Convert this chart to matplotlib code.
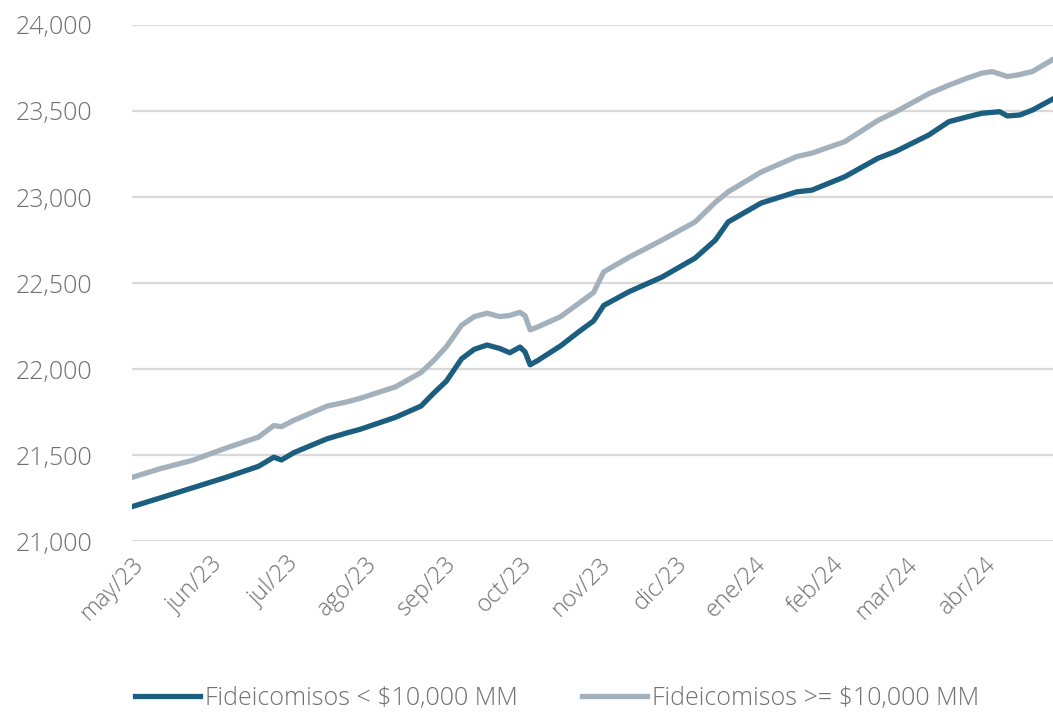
import pandas as pd
import matplotlib
matplotlib.use("Agg")
import matplotlib.pyplot as plt
from matplotlib.ticker import FuncFormatter

# values (approximate)
dates = [
    "2023-05-01", "2023-05-12", "2023-05-25", "2023-06-07", "2023-06-20",
    "2023-06-26", "2023-06-29", "2023-07-04", "2023-07-17", "2023-07-25",
    "2023-07-30", "2023-08-13", "2023-08-23", "2023-08-28", "2023-09-02",
    "2023-09-08", "2023-09-13", "2023-09-18", "2023-09-23", "2023-09-27",
    "2023-10-01", "2023-10-03", "2023-10-05", "2023-10-08", "2023-10-17",
    "2023-10-24", "2023-10-30", "2023-11-03", "2023-11-13", "2023-11-26",
    "2023-12-09", "2023-12-17", "2023-12-22", "2024-01-04", "2024-01-18",
    "2024-01-24", "2024-02-06", "2024-02-19", "2024-02-26", "2024-03-10",
    "2024-03-18", "2024-03-25", "2024-03-31", "2024-04-04", "2024-04-07",
    "2024-04-10", "2024-04-15", "2024-04-20", "2024-04-28",
]
menores = [
    21200, 21250, 21310, 21370, 21435,
    21488, 21472, 21515, 21595, 21630,
    21650, 21720, 21785, 21860, 21930,
    22060, 22115, 22140, 22120, 22095,
    22128, 22100, 22025, 22050, 22135,
    22215, 22280, 22370, 22450, 22535,
    22645, 22750, 22855, 22965, 23030,
    23040, 23118, 23225, 23265, 23360,
    23438, 23465, 23487, 23492, 23496,
    23471, 23477, 23506, 23570,
]
mayores = [
    21370, 21420, 21470, 21540, 21605,
    21672, 21665, 21703, 21785, 21810,
    21830, 21897, 21980, 22050, 22130,
    22255, 22305, 22325, 22305, 22312,
    22330, 22310, 22228, 22245, 22305,
    22380, 22445, 22565, 22650, 22750,
    22855, 22970, 23030, 23145, 23235,
    23255, 23322, 23445, 23495, 23600,
    23650, 23690, 23720, 23729, 23715,
    23700, 23712, 23730, 23800,
]
month_ticks = pd.date_range("2023-05-01", "2024-04-01", freq="MS")
month_labels = ["may/23", "jun/23", "jul/23", "ago/23", "sep/23", "oct/23",
                "nov/23", "dic/23", "ene/24", "feb/24", "mar/24", "abr/24"]
series_names = ["Fideicomisos < $10,000 MM", "Fideicomisos >= $10,000 MM"]

plt.rcParams["font.family"] = ["Open Sans", "DejaVu Sans"]
plt.rcParams["font.weight"] = "light"
text_color = "#707070"

x = pd.to_datetime(dates)

fig = plt.figure(figsize=(10.53, 7.13), dpi=100)
ax = fig.add_axes([0.125, 0.241, 0.875, 0.724])

ax.plot(x, menores, color="#1b5e80", lw=3.8, label=series_names[0])
ax.plot(x, mayores, color="#a3b1bd", lw=3.8, label=series_names[1])

ax.set_ylim(21000, 24000)
ax.set_yticks(range(21000, 24001, 500))
ax.yaxis.set_major_formatter(FuncFormatter(lambda v, p: f"{int(v):,}"))
ax.set_xlim(x[0], x[-1])
ax.set_xticks(month_ticks)
ax.set_xticklabels(month_labels, rotation=45, ha="right", rotation_mode="anchor")

ax.grid(axis="y", color="#d9d9d9", lw=1.6)
ax.set_axisbelow(True)
for s in ax.spines.values():
    s.set_visible(False)
ax.tick_params(axis="both", length=0, labelsize=18, labelcolor=text_color)
ax.tick_params(axis="y", pad=28)
ax.tick_params(axis="x", pad=8, labelsize=17)

fig.legend(loc="center", bbox_to_anchor=(557 / 1053, 0.02), ncol=2, frameon=False,
           prop={"size": 18, "weight": "light"}, labelcolor=text_color,
           handlelength=2.6, handletextpad=0.2, columnspacing=2.6)

fig.savefig("out.png", dpi=100)
